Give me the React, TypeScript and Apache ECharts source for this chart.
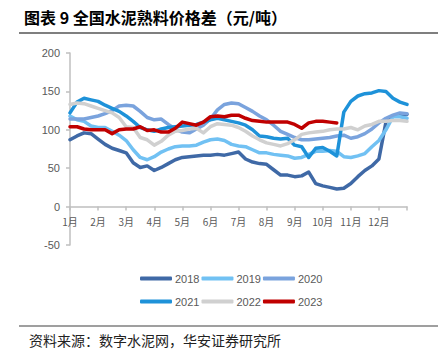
import React, { useEffect, useRef } from "react";
import * as echarts from "echarts";

const months = ["1月", "2月", "3月", "4月", "5月", "6月", "7月", "8月", "9月", "10月", "11月", "12月"];
const weeks = Array.from({ length: 49 }, (_, i) => "W" + (i + 1));

const years = ["2018", "2019", "2020", "2021", "2022", "2023"];
const colors = ["#3f69a6", "#71c1f3", "#7aa3dd", "#1e92d9", "#d0d0d0", "#c00000"];

const s2018 = [87, 92, 96, 95, 88, 81, 76, 73, 70, 57, 51, 53, 47, 51, 56, 61, 64, 65, 66, 67, 67, 68, 67, 69, 71, 62, 58, 56, 55, 48, 41, 41, 39, 40, 45, 30, 27, 25, 23, 24, 30, 39, 47, 53, 62, 110, 118, 119, 120];
const s2019 = [118, 113, 111, 105, 103, 103, 98, 93, 86, 74, 64, 61, 65, 71, 75, 78, 79, 79, 80, 84, 87, 88, 86, 81, 79, 78, 74, 70, 70, 68, 67, 66, 63, 64, 68, 72, 72, 73, 72, 65, 64, 66, 69, 78, 86, 100, 117, 117, 115];
const s2020 = [114, 114, 114, 116, 118, 121, 125, 131, 132, 131, 124, 116, 113, 114, 107, 101, 97, 96, 101, 106, 114, 126, 133, 135, 134, 129, 124, 118, 113, 106, 98, 94, 90, 87, 87, 88, 89, 90, 92, 93, 89, 91, 95, 101, 109, 115, 119, 122, 121];
const s2021 = [122, 136, 141, 139, 137, 132, 128, 124, 118, 111, 103, 100, 98, 101, 103, 104, 105, 106, 107, 110, 113, 115, 113, 111, 109, 106, 100, 92, 91, 89, 88, 89, 80, 78, 64, 76, 77, 72, 66, 123, 137, 144, 147, 148, 151, 150, 141, 136, 133];
const s2022 = [133, 135, 134, 131, 128, 125, 122, 116, 104, 103, 90, 87, 80, 85, 93, 98, 99, 101, 102, 96, 104, 108, 107, 106, 103, 98, 92, 87, 83, 81, 79, 82, 87, 94, 96, 97, 98, 100, 101, 101, 103, 100, 105, 107, 111, 111, 112, 112, 111];
const s2023 = [104, 104, 101, 100, 100, 100, 95, 100, 101, 101, 104, 99, 100, 97, 97, 102, 110, 108, 106, 110, 117, 118, 117, 119, 119, 115, 112, 111, 110, 110, 110, 110, 107, 102, 109, 111, 111, 110, 109];

const seriesData = [s2018, s2019, s2020, s2021, s2022, s2023];

const title = "图表 9 全国水泥熟料价格差（元/吨）";
const source = "资料来源：数字水泥网，华安证券研究所";

export default function App() {
  const ref = useRef<HTMLDivElement>(null);
  useEffect(() => {
    if (!ref.current) return;
    const chart = echarts.init(ref.current, null, { renderer: "svg" });
    const cjk = "'Noto Sans CJK SC', sans-serif";
    const latin = "'Liberation Sans', Arial, sans-serif";
    const H = 352;
    const gridTop = 53;
    const gridBottom = 107;
    const yMin = -50;
    const yMax = 200;
    const yStep = 50;
    const plotH = H - gridTop - gridBottom;
    const pxPerUnit = plotH / (yMax - yMin);
    // grid whose bottom edge sits on the zero line of the main grid (for the month axis)
    const zeroBottom = gridBottom + (0 - yMin) * pxPerUnit;
    // label grid: one step larger on both ends so that end labels are interior
    const pad = yStep * pxPerUnit;
    const legendCommon = {
      left: 135,
      itemWidth: 32,
      itemHeight: 4,
      itemGap: 2,
      icon: "roundRect",
      textStyle: { fontSize: 11, color: "#595959", fontFamily: latin, padding: [0, 0, 0, -2] },
    };
    chart.setOption({
      animation: false,
      backgroundColor: "#ffffff",
      title: {
        text: title,
        left: 19,
        top: 4,
        textStyle: { fontSize: 16, fontWeight: "bold", color: "#000", fontFamily: cjk },
      },
      graphic: [
        { type: "line", shape: { x1: 19, y1: 33, x2: 438, y2: 33 }, style: { stroke: "#7f7f7f", lineWidth: 2 } },
        { type: "line", shape: { x1: 19, y1: 326, x2: 438, y2: 326 }, style: { stroke: "#7f7f7f", lineWidth: 1.5 } },
        {
          type: "text",
          left: 29,
          top: 333,
          style: { text: source, fontSize: 14, fill: "#222", fontFamily: cjk },
        },
      ],
      legend: [
        { ...legendCommon, data: years.slice(0, 3), top: 268 },
        { ...legendCommon, data: years.slice(3), top: 291 },
      ],
      grid: [
        { left: 70, right: 31, top: gridTop, bottom: gridBottom, containLabel: false },
        { left: 70, right: 31, top: gridTop, bottom: zeroBottom, containLabel: false },
        { left: 70, right: 31, top: gridTop - pad, bottom: gridBottom - pad, containLabel: false },
      ],
      xAxis: [
        {
          type: "category",
          gridIndex: 0,
          data: weeks,
          boundaryGap: false,
          position: "bottom",
          axisLine: { show: false, onZero: false },
          axisTick: { show: false },
          axisLabel: { show: false },
          splitLine: { show: false },
        },
        {
          type: "category",
          gridIndex: 1,
          data: weeks,
          boundaryGap: false,
          position: "bottom",
          axisLine: { show: true, onZero: false, lineStyle: { color: "#bfbfbf", width: 1.5 } },
          axisTick: { interval: 3, length: 4, lineStyle: { color: "#bfbfbf", width: 1.5 } },
          axisLabel: {
            interval: 3,
            margin: 10,
            fontSize: 10,
            color: "#595959",
            fontFamily: cjk,
            formatter: (_v: string, idx: number) => (idx % 4 === 0 ? months[idx / 4] ?? "" : ""),
          },
          splitLine: { show: false },
        },
        {
          type: "category",
          gridIndex: 2,
          data: weeks,
          show: false,
          axisLine: { show: false, onZero: false },
        },
      ],
      yAxis: [
        {
          type: "value",
          gridIndex: 0,
          min: yMin,
          max: yMax,
          interval: yStep,
          axisLine: { show: true, onZero: false, lineStyle: { color: "#bfbfbf", width: 1.5 } },
          axisTick: { show: true, length: 4, lineStyle: { color: "#bfbfbf", width: 1.5 } },
          axisLabel: { show: false },
          splitLine: { show: false },
        },
        {
          type: "value",
          gridIndex: 1,
          min: 0,
          max: yMax,
          show: false,
          splitLine: { show: false },
        },
        {
          type: "value",
          gridIndex: 2,
          min: yMin - yStep,
          max: yMax + yStep,
          interval: yStep,
          axisLine: { show: false, onZero: false },
          axisTick: { show: false },
          axisLabel: {
            fontSize: 11,
            color: "#595959",
            fontFamily: latin,
            margin: 10,
            formatter: (v: number) => (v < yMin || v > yMax ? "" : String(v)),
          },
          splitLine: { show: false },
        },
      ],
      series: years.map((y, k) => ({
        name: y,
        type: "line",
        xAxisIndex: 0,
        yAxisIndex: 0,
        data: seriesData[k],
        symbol: "none",
        smooth: false,
        itemStyle: { color: colors[k] },
        lineStyle: { color: colors[k], width: 3.5, cap: "round", join: "round" },
        z: 2 + k,
      })),
    });
    return () => chart.dispose();
  }, []);
  return (
    <div
      ref={ref}
      style={{ position: "fixed", left: 0, top: 0, width: 438, height: 352, background: "#fff" }}
    />
  );
}
